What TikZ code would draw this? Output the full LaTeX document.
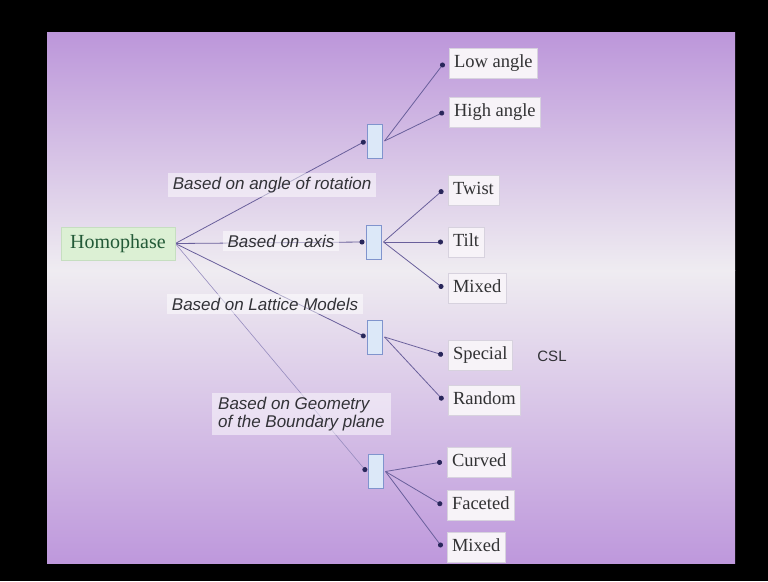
\documentclass[tikz,border=0pt]{standalone}
\usepackage{fontspec}
\setmainfont{Liberation Serif}
\setsansfont{Liberation Sans}
\usetikzlibrary{arrows.meta}
\definecolor{slidetop}{RGB}{188,150,218}
\definecolor{slidemidA}{RGB}{216,196,234}
\definecolor{slidelight}{RGB}{239,236,241}
\definecolor{slidemidB}{RGB}{224,209,236}
\definecolor{slidebot}{RGB}{190,152,220}
\definecolor{leaffill}{RGB}{247,243,248}
\definecolor{leafborder}{RGB}{215,210,222}
\definecolor{leaftext}{RGB}{50,50,52}
\definecolor{homofill}{RGB}{220,240,212}
\definecolor{homoborder}{RGB}{198,222,192}
\definecolor{homotext}{RGB}{35,90,55}
\definecolor{barfill}{RGB}{220,232,248}
\definecolor{barborder}{RGB}{128,148,205}
\definecolor{linecol}{RGB}{105,95,155}
\definecolor{faintline}{RGB}{150,140,190}
\definecolor{dotcol}{RGB}{40,38,90}
\definecolor{labtext}{RGB}{50,50,55}
\pgfdeclarelayer{bglayer}
\pgfdeclarelayer{linelayer}
\pgfsetlayers{bglayer,linelayer,main}
\tikzset{
  leafbox/.style={draw=leafborder, fill=leaffill, line width=0.6pt,
    font=\fontsize{18.5}{20}\selectfont, text=leaftext, anchor=west,
    inner xsep=5pt, inner ysep=6.5pt, text height=13pt, text depth=4pt,
    outer xsep=5pt, outer ysep=0pt},
  homobox/.style={draw=homoborder, fill=homofill, line width=0.6pt,
    font=\fontsize{20}{22}\selectfont, text=homotext,
    minimum width=114pt, minimum height=33pt, inner sep=0pt},
  barbox/.style={draw=barborder, fill=barfill, line width=0.7pt,
    minimum width=15pt, minimum height=34pt, inner sep=0pt, outer xsep=2pt},
  lablbox/.style={fill=white, fill opacity=0.5, text opacity=1, text=labtext,
    font=\sffamily\itshape\fontsize{17}{18}\selectfont, inner xsep=5pt, inner ysep=4pt},
  conn/.style={draw=linecol, line width=0.8pt, -{Circle[length=5pt,color=dotcol]}},
  faintconn/.style={draw=faintline, line width=0.6pt, -{Circle[length=5pt,color=dotcol]}}
}
\begin{document}
\begin{tikzpicture}[x=1pt,y=-1pt]
\useasboundingbox (0,0) rectangle (768,581);
\begin{pgfonlayer}{bglayer}
\fill[black] (0,0) rectangle (768,581);
\shade[top color=slidetop, middle color=slidemidA, bottom color=slidelight] (47,32) rectangle (735,270.5);
\shade[top color=slidelight, middle color=slidemidB, bottom color=slidebot] (47,270) rectangle (735,563);
\end{pgfonlayer}

% root
\node[homobox] (homo) at (118,243.5) {Homophase};

% bars
\node[barbox] (b1) at (375,141) {};
\node[barbox] (b2) at (374,242) {};
\node[barbox] (b3) at (375,337) {};
\node[barbox] (b4) at (376,471.5) {};

% leaves
\node[leafbox] (low)   at (444,63)  {Low angle};
\node[leafbox] (high)  at (444,112) {High angle};
\node[leafbox] (twist) at (443,190) {Twist};
\node[leafbox] (tilt)  at (443,242) {Tilt};
\node[leafbox] (mixA)  at (443,288) {Mixed};
\node[leafbox] (spec)  at (443,355) {Special};
\node[leafbox] (rand)  at (443,400) {Random};
\node[leafbox] (curv)  at (442,462) {Curved};
\node[leafbox] (facet) at (442,505) {Faceted};
\node[leafbox] (mixB)  at (442,547) {Mixed};

\node[font=\sffamily\fontsize{15}{16}\selectfont, text=labtext] (csl) at (552,356) {CSL};

% labels
\node[lablbox] (l1) at (272,185) {Based on angle of rotation};
\node[lablbox] (l2) at (281,241) {Based on axis};
\node[lablbox] (l3) at (265,304) {Based on Lattice Models};
\node[lablbox, anchor=west, align=left, inner xsep=6pt] (l4) at (212,414) {Based on Geometry\\of the Boundary plane};

\begin{pgfonlayer}{linelayer}
\draw[conn] (homo.east) -- (b1.west);
\draw[conn] (homo.east) -- (b2.west);
\draw[conn] (homo.east) -- (b3.west);
\draw[faintconn] (homo.east) -- (b4.west);
\draw[conn] (b1.east) -- (low.west);
\draw[conn] (b1.east) -- (high.west);
\draw[conn] (b2.east) -- (twist.west);
\draw[conn] (b2.east) -- (tilt.west);
\draw[conn] (b2.east) -- (mixA.west);
\draw[conn] (b3.east) -- (spec.west);
\draw[conn] (b3.east) -- (rand.west);
\draw[conn] (b4.east) -- (curv.west);
\draw[conn] (b4.east) -- (facet.west);
\draw[conn] (b4.east) -- (mixB.west);
\end{pgfonlayer}
\end{tikzpicture}
\end{document}
